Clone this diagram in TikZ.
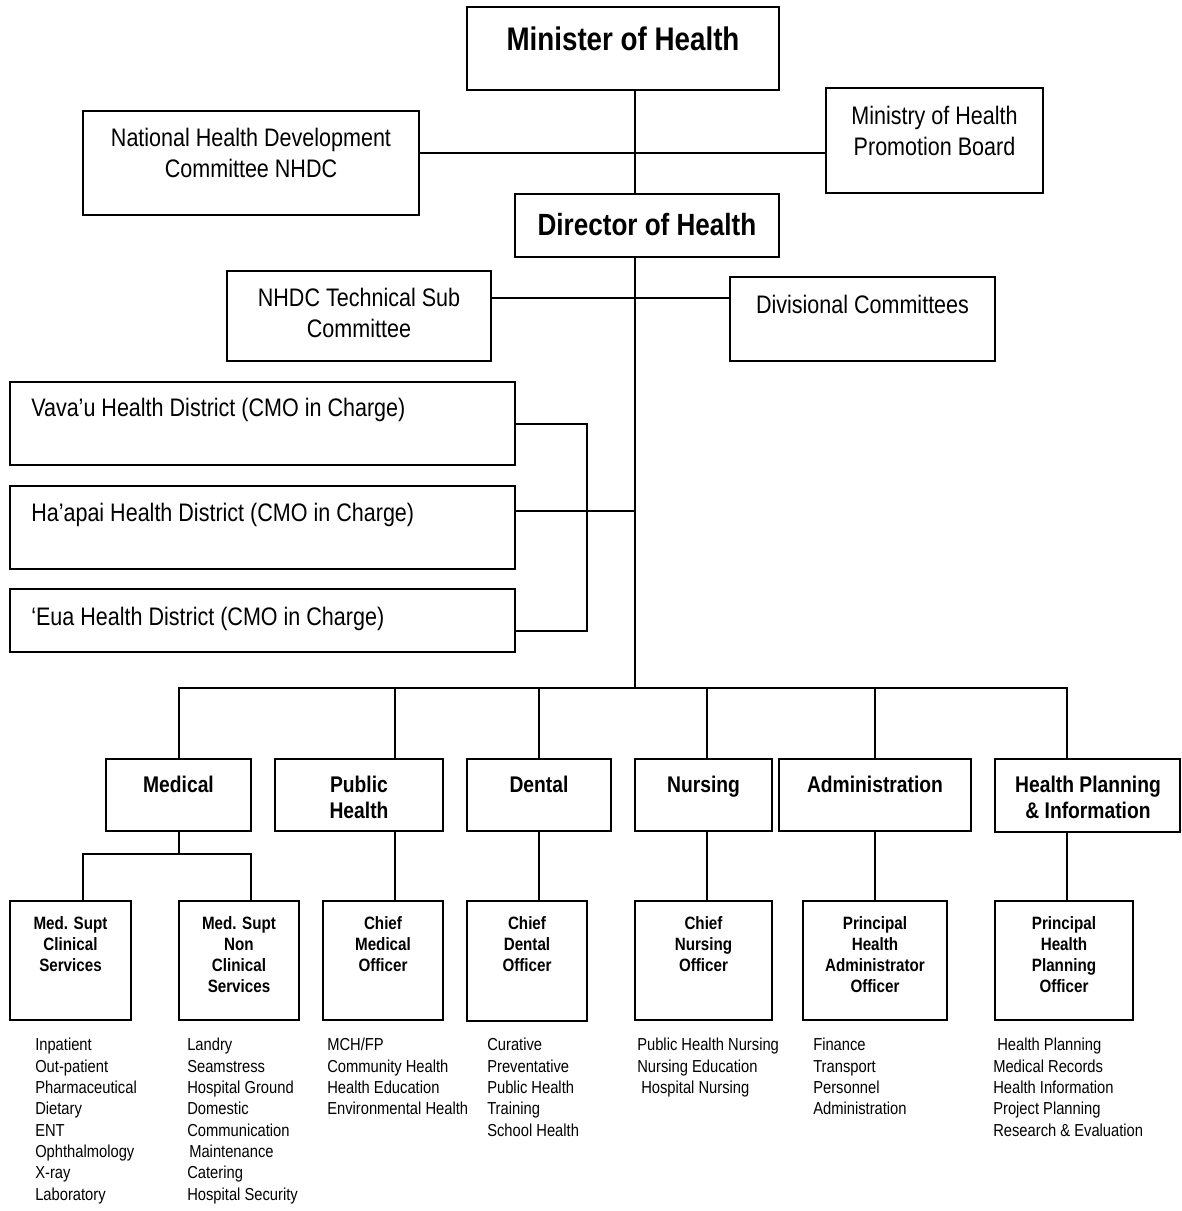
\documentclass[tikz,border=0pt]{standalone}
\usepackage{fontspec}
\setmainfont[FakeStretch=0.85]{Liberation Sans}
\usetikzlibrary{fit}
\begin{document}
\begin{tikzpicture}[x=0.75pt,y=-0.75pt,
  box/.style={draw, line width=1.6pt, inner sep=0pt},
  conn/.style={line width=1.5pt},
  txt/.style={inner sep=0pt, anchor=north, align=center},
  lst/.style={inner sep=0pt, anchor=north west, align=left, font=\fontsize{13}{16}\selectfont},
  bigt/.style={txt, font=\fontsize{24.5}{29}\selectfont\bfseries},
  dirt/.style={txt, font=\fontsize{23}{27}\selectfont\bfseries},
  regt/.style={txt, font=\fontsize{19}{23}\selectfont},
  distt/.style={inner sep=0pt, anchor=north west, font=\fontsize{19}{23}\selectfont},
  lvA/.style={txt, font=\fontsize{17}{19.5}\selectfont\bfseries},
  lvB/.style={txt, font=\fontsize{13.4}{15.75}\selectfont\bfseries},
]
\useasboundingbox (0,0) rectangle (1182,1211);

% ---------- top boxes ----------
\node[box, fit={(467,7) (779,90)}] (min) {};
\node[bigt] (minT) at (623,27) {Minister of Health};

\node[box, fit={(83,111) (419,215)}] (nhdc) {};
\node[regt] (nhdcT) at (251,128) {National Health Development\\Committee NHDC};

\node[box, fit={(826,88) (1043,193)}] (mohpb) {};
\node[regt] (mohpbT) at (934.5,106) {Ministry of Health\\Promotion Board};

\node[box, fit={(515,194) (779,257)}] (dir) {};
\node[dirt] (dirT) at (647,213) {Director of Health};

\node[box, fit={(227,271) (491,361)}] (tech) {};
\node[regt] (techT) at (359,288) {NHDC Technical Sub\\Committee};

\node[box, fit={(730,277) (995,361)}] (div) {};
\node[regt] (divT) at (862.5,295) {Divisional Committees};

% ---------- districts ----------
\node[box, fit={(10,382) (515,465)}] (vav) {};
\node[distt] (vavT) at (31,398) {Vava’u Health District (CMO in Charge)};
\node[box, fit={(10,486) (515,569)}] (hap) {};
\node[distt] (hapT) at (31,503) {Ha’apai Health District (CMO in Charge)};
\node[box, fit={(10,589) (515,652)}] (eua) {};
\node[distt] (euaT) at (31,607) {‘Eua Health District (CMO in Charge)};

% ---------- level 1 ----------
\node[box, fit={(106,759) (251,831)}] (med) {};
\node[lvA] (medT) at (178.5,776) {Medical};
\node[box, fit={(275,759) (443,831)}] (ph) {};
\node[lvA] (phT) at (359,776) {Public\\Health};
\node[box, fit={(467,759) (611,831)}] (den) {};
\node[lvA] (denT) at (539,776) {Dental};
\node[box, fit={(635,759) (772,831)}] (nur) {};
\node[lvA] (nurT) at (703.5,776) {Nursing};
\node[box, fit={(779,759) (971,831)}] (adm) {};
\node[lvA] (admT) at (875,776) {Administration};
\node[box, fit={(995,759) (1180,832)}] (hpi) {};
\node[lvA] (hpiT) at (1088,776) {Health Planning\\\& Information};

% ---------- level 2 ----------
\node[box, fit={(10,901) (131,1020)}] (msc) {};
\node[lvB] (mscT) at (70.5,916) {Med. Supt\\Clinical\\Services};
\node[box, fit={(179,901) (299,1020)}] (msn) {};
\node[lvB] (msnT) at (239,916) {Med. Supt\\Non\\Clinical\\Services};
\node[box, fit={(323,901) (443,1020)}] (cmo) {};
\node[lvB] (cmoT) at (383,916) {Chief\\Medical\\Officer};
\node[box, fit={(467,901) (587,1021)}] (cdo) {};
\node[lvB] (cdoT) at (527,916) {Chief\\Dental\\Officer};
\node[box, fit={(635,901) (772,1020)}] (cno) {};
\node[lvB] (cnoT) at (703.5,916) {Chief\\Nursing\\Officer};
\node[box, fit={(803,901) (947,1020)}] (pha) {};
\node[lvB] (phaT) at (875,916) {Principal\\Health\\Administrator\\Officer};
\node[box, fit={(995,901) (1133,1020)}] (php) {};
\node[lvB] (phpT) at (1064,916) {Principal\\Health\\Planning\\Officer};

% ---------- lists ----------
\node[lst] (mscL) at (35,1038) {Inpatient\\Out-patient\\Pharmaceutical\\Dietary\\ENT\\Ophthalmology\\X-ray\\Laboratory};
\node[lst] (msnL) at (187,1038) {Landry\\Seamstress\\Hospital Ground\\Domestic\\Communication\\\hspace{1.5pt}Maintenance\\Catering\\Hospital Security};
\node[lst] (cmoL) at (327,1038) {MCH/FP\\Community Health\\Health Education\\Environmental Health};
\node[lst] (cdoL) at (487,1038) {Curative\\Preventative\\Public Health\\Training\\School Health};
\node[lst] (cnoL) at (637,1038) {Public Health Nursing\\Nursing Education\\\hspace{3pt}Hospital Nursing};
\node[lst] (phaL) at (813,1038) {Finance\\Transport\\Personnel\\Administration};
\node[lst] (phpL) at (993,1038) {\hspace{3pt}Health Planning\\Medical Records\\Health Information\\Project Planning\\Research \& Evaluation};

% ---------- helper coordinates ----------
\coordinate (sp) at (635,0);
\coordinate (hA) at (0,153);
\coordinate (hB) at (0,298);
\coordinate (bus) at (0,688);
\coordinate (brk) at (587,0);
\coordinate (hapy) at (0,511);
\coordinate (euy) at (0,631);
\coordinate (medy) at (0,854);
\coordinate (cPH) at (395,0);
\coordinate (cDE) at (539,0);
\coordinate (cNU) at (707,0);
\coordinate (cAD) at (875,0);
\coordinate (cHP) at (1067,0);
\coordinate (cMS) at (83,0);
\coordinate (cMN) at (251,0);

% ---------- connectors ----------
\draw[conn] (min.south -| sp) -- (dir.north -| sp);
\draw[conn] (nhdc.east |- hA) -- (mohpb.west |- hA);
\draw[conn] (dir.south -| sp) -- (sp |- bus);
\draw[conn] (tech.east |- hB) -- (div.west |- hB);
\draw[conn] (vav.east) -- (brk |- vav.east) -- (brk |- euy) -- (eua.east |- euy);
\draw[conn] (hap.east |- hapy) -- (sp |- hapy);
\draw[conn] (med.north) -- (med.north |- bus) -- (cHP |- bus) -- (hpi.north -| cHP);
\draw[conn] (cPH |- bus) -- (ph.north -| cPH);
\draw[conn] (cDE |- bus) -- (den.north -| cDE);
\draw[conn] (cNU |- bus) -- (nur.north -| cNU);
\draw[conn] (cAD |- bus) -- (adm.north -| cAD);
\draw[conn] (ph.south -| cPH) -- (cmo.north -| cPH);
\draw[conn] (den.south -| cDE) -- (cdo.north -| cDE);
\draw[conn] (nur.south -| cNU) -- (cno.north -| cNU);
\draw[conn] (adm.south -| cAD) -- (pha.north -| cAD);
\draw[conn] (hpi.south -| cHP) -- (php.north -| cHP);
\draw[conn] (med.south) -- (med.south |- medy);
\draw[conn] (msc.north -| cMS) -- (cMS |- medy) -- (cMN |- medy) -- (msn.north -| cMN);
\end{tikzpicture}
\end{document}
